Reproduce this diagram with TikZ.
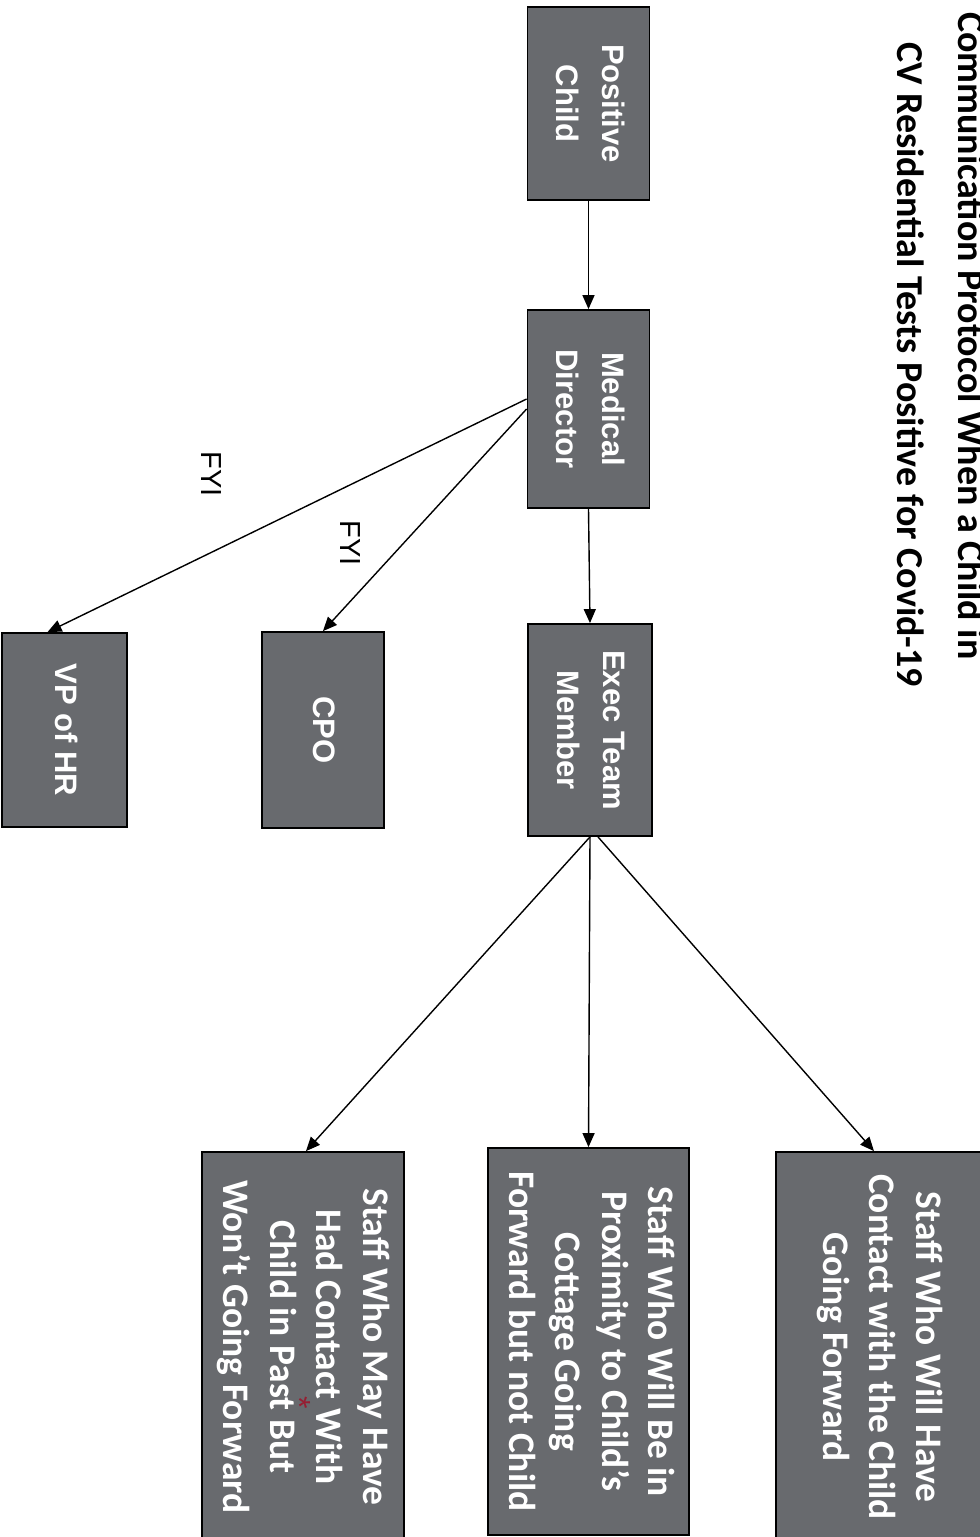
\documentclass[tikz,border=0pt]{standalone}
\usepackage{fontspec}
\usepackage{graphicx}
\setmainfont{Liberation Sans}
\newfontfamily\calfont{Carlito}
\usetikzlibrary{arrows.meta}
\definecolor{boxgray}{RGB}{104,106,110}
\definecolor{inkred}{RGB}{150,30,50}
\newcommand{\vtxt}[1]{\rotatebox{-90}{\begin{tabular}{@{}c@{}}#1\end{tabular}}}
\tikzset{
  box/.style={draw=black, line width=1.8pt, fill=boxgray, text=white, inner sep=0pt,
    font=\bfseries\fontsize{31}{46}\selectfont},
  sbox/.style={box, font=\calfont\bfseries\fontsize{37.5}{46.5}\selectfont},
  arr/.style={line width=1.4pt, -{Triangle[length=14pt,width=12pt]}},
  fyi/.style={font=\fontsize{29}{34}\selectfont, inner sep=0pt, rotate=-90},
  ttl/.style={font=\calfont\bfseries\fontsize{38}{46}\selectfont, inner sep=0pt,
    anchor=base west, rotate=-90},
}
\begin{document}
\begin{tikzpicture}[x=1pt,y=-1pt]
\clip (0,0) rectangle (980,1537);
\fill[white] (0,0) rectangle (980,1537);
% title
\node[ttl] (t1) at (958,12) {Communication Protocol When a Child in};
\node[ttl] (t2) at (897,42) {CV Residential Tests Positive for Covid-19};
% boxes
\node[box, minimum width=122pt, minimum height=193pt] (pc) at (588.5,103.5) {\vtxt{Positive\\Child}};
\node[box, minimum width=122pt, minimum height=198pt] (md) at (588.5,409) {\vtxt{Medical\\Director}};
\node[box, minimum width=124pt, minimum height=212pt] (ex) at (590,730) {\vtxt{Exec Team\\Member}};
\node[box, minimum width=122pt, minimum height=196pt] (cpo) at (323,730) {\vtxt{CPO}};
\node[box, minimum width=125pt, minimum height=194pt] (vp) at (64.5,730) {\vtxt{VP of HR}};
\node[sbox, minimum width=206pt, minimum height=390pt] (s1) at (879,1347) {\vtxt{Staff Who Will Have\\Contact with the Child\\Going Forward}};
\node[sbox, minimum width=201pt, minimum height=387pt] (s2) at (588.5,1341.5) {\vtxt{Staff Who Will Be in\\Proximity to Child’s\\Cottage Going\\Forward but not Child}};
\node[sbox, minimum width=202pt, minimum height=390pt] (s3) at (303,1347) {\vtxt{Staff Who May Have\\Had Contact With\\Child in Past But\\Won’t Going Forward}};
% connectors
\draw[arr] (pc.south) -- (md.north);
\draw[arr] (md.south) -- (ex.north);
\draw[arr] ([yshift=10pt]md.west) -- ([xshift=-17pt]vp.north);
\draw[arr] (md.west) -- (cpo.north);
\draw[arr] (ex.south) -- ([xshift=3pt]s3.north);
\draw[arr] (ex.south) -- (s2.north);
\draw[arr] ([xshift=8pt]ex.south) -- ([xshift=-5pt]s1.north);
% labels
\node[fyi] (f1) at (211,474) {FYI};
\node[fyi] (f2) at (350,543) {FYI};
\node[text=inkred, font=\fontsize{32}{32}\selectfont, inner sep=0pt, rotate=-90] (ast) at (300,1403) {*};
\end{tikzpicture}
\end{document}
